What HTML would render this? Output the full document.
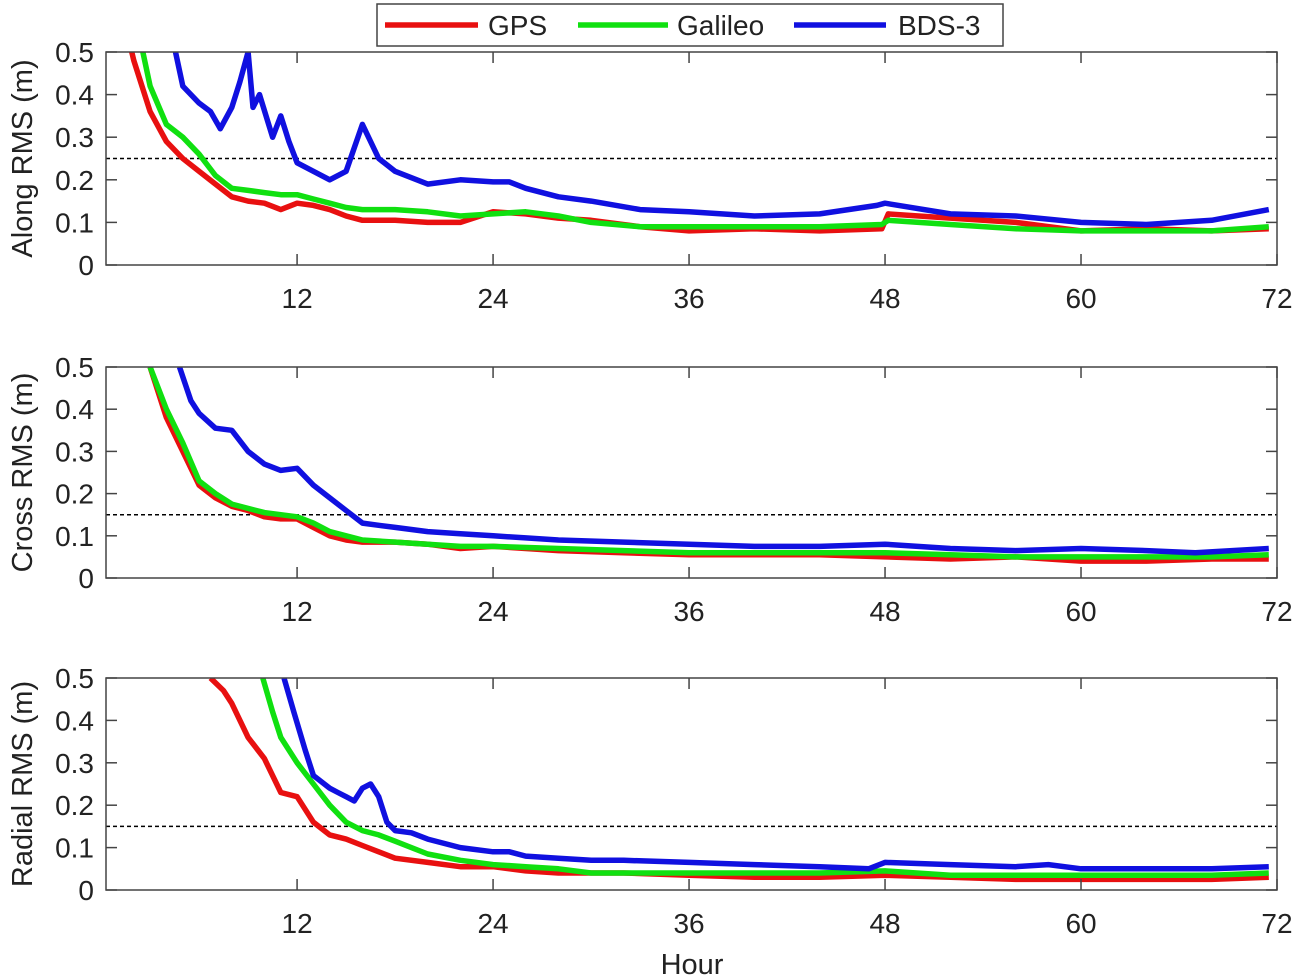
<!DOCTYPE html>
<html><head><meta charset="utf-8"><style>
body{margin:0;background:#fff;}
svg{display:block;font-family:"Liberation Sans",Arial,sans-serif;}
</style></head><body>
<svg id="chart" width="1301" height="980"></svg>
<script>
const xDomain=[0.3,72];
const xTicks=[12,24,36,48,60,72];
const yTicks=[0,0.1,0.2,0.3,0.4,0.5];
const yTickLabels=["0","0.1","0.2","0.3","0.4","0.5"];
const panelTitles=["Along RMS (m)","Cross RMS (m)","Radial RMS (m)"];
const thresholds=[0.25,0.15,0.15];
const seriesNames=["GPS","Galileo","BDS-3"];
const seriesColors=["#e81010","#10e010","#1010e0"];

const alongGpsH=[1.5,2,3,4,5,6,7,8,9,10,11,12,13,14,15,16,17,18,20,22,24,26,28,30,33,36,40,44,47.8,48.2,52,56,60,64,68,71.5];
const alongGpsV=[0.56,0.48,0.36,0.29,0.25,0.22,0.19,0.16,0.15,0.145,0.13,0.145,0.14,0.13,0.115,0.105,0.105,0.105,0.10,0.10,0.125,0.12,0.11,0.105,0.09,0.08,0.085,0.08,0.085,0.12,0.11,0.10,0.08,0.085,0.08,0.085];
const alongGalH=[2,3,4,5,6,7,8,9,10,11,12,13,14,15,16,17,18,20,22,24,26,28,30,33,36,40,44,47.8,48.2,52,56,60,64,68,71.5];
const alongGalV=[0.6,0.42,0.33,0.30,0.26,0.21,0.18,0.175,0.17,0.165,0.165,0.155,0.145,0.135,0.13,0.13,0.13,0.125,0.115,0.12,0.125,0.115,0.10,0.09,0.09,0.09,0.09,0.095,0.105,0.095,0.085,0.08,0.08,0.08,0.09];
const alongBdsH=[4,5,6,6.7,7.3,8,8.5,9,9.3,9.7,10.5,11,11.5,12,13,14,15,16,17,18,20,22,24,25,26,28,30,33,36,40,44,47.5,48,52,56,60,64,68,71.5];
const alongBdsV=[0.6,0.42,0.38,0.36,0.32,0.37,0.43,0.50,0.37,0.40,0.30,0.35,0.29,0.24,0.22,0.20,0.22,0.33,0.25,0.22,0.19,0.20,0.195,0.195,0.18,0.16,0.15,0.13,0.125,0.115,0.12,0.14,0.145,0.12,0.115,0.10,0.095,0.105,0.13];

const crossGpsH=[3,4,5,6,7,8,9,10,11,12,13,14,15,16,18,20,22,24,28,32,36,40,44,48,52,56,60,64,68,71.5];
const crossGpsV=[0.5,0.38,0.30,0.22,0.19,0.17,0.16,0.145,0.14,0.14,0.12,0.10,0.09,0.085,0.085,0.08,0.07,0.075,0.065,0.06,0.055,0.055,0.055,0.05,0.045,0.05,0.04,0.04,0.045,0.045];
const crossGalH=[3,4,5,6,7,8,9,10,11,12,13,14,15,16,18,20,22,24,28,32,36,40,44,48,52,56,60,64,68,71.5];
const crossGalV=[0.5,0.40,0.32,0.23,0.20,0.175,0.165,0.155,0.15,0.145,0.13,0.11,0.10,0.09,0.085,0.08,0.075,0.075,0.07,0.065,0.06,0.06,0.06,0.06,0.055,0.05,0.05,0.05,0.05,0.055];
const crossBdsH=[4.8,5.5,6,7,8,9,10,11,12,13,14,15,16,17,18,20,22,24,26,28,32,36,40,44,48,52,56,60,64,67,71.5];
const crossBdsV=[0.5,0.42,0.39,0.355,0.35,0.30,0.27,0.255,0.26,0.22,0.19,0.16,0.13,0.125,0.12,0.11,0.105,0.10,0.095,0.09,0.085,0.08,0.075,0.075,0.08,0.07,0.065,0.07,0.065,0.06,0.07];

const radGpsH=[6.7,7.5,8,9,10,11,12,13,14,15,16,17,18,20,22,24,26,28,32,36,40,44,48,52,56,60,64,68,71.5];
const radGpsV=[0.5,0.47,0.44,0.36,0.31,0.23,0.22,0.16,0.13,0.12,0.105,0.09,0.075,0.065,0.055,0.055,0.045,0.04,0.04,0.035,0.03,0.03,0.035,0.03,0.025,0.025,0.025,0.025,0.03];
const radGalH=[9.9,10.5,11,12,13,14,15,16,17,18,20,22,24,26,28,30,36,40,44,48,52,56,60,64,68,71.5];
const radGalV=[0.5,0.42,0.36,0.30,0.25,0.20,0.16,0.14,0.13,0.115,0.085,0.07,0.06,0.055,0.05,0.04,0.04,0.04,0.04,0.045,0.035,0.035,0.035,0.035,0.035,0.04];
const radBdsH=[11.2,11.8,12.5,13,14,14.5,15,15.5,16,16.5,17,17.5,18,19,20,22,24,25,26,28,30,32,36,40,44,47,48,52,56,58,60,64,68,71.5];
const radBdsV=[0.5,0.42,0.33,0.27,0.24,0.23,0.22,0.21,0.24,0.25,0.22,0.16,0.14,0.135,0.12,0.10,0.09,0.09,0.08,0.075,0.07,0.07,0.065,0.06,0.055,0.05,0.065,0.06,0.055,0.06,0.05,0.05,0.05,0.055];

const panels=[
 {top:52,bottom:265,series:[[alongGpsH,alongGpsV],[alongGalH,alongGalV],[alongBdsH,alongBdsV]]},
 {top:367,bottom:578,series:[[crossGpsH,crossGpsV],[crossGalH,crossGalV],[crossBdsH,crossBdsV]]},
 {top:678,bottom:890,series:[[radGpsH,radGpsV],[radGalH,radGalV],[radBdsH,radBdsV]]}
];
const L=106,R=1277;
const NS="http://www.w3.org/2000/svg";
const svg=document.getElementById('chart');
function mk(tag,attrs,parent){const e=document.createElementNS(NS,tag);for(const k in attrs)e.setAttribute(k,attrs[k]);(parent||svg).appendChild(e);return e;}
const xs=h=>L+(h-xDomain[0])/(xDomain[1]-xDomain[0])*(R-L);
const defs=mk('defs',{});
panels.forEach((p,pi)=>{
 const ys=v=>p.bottom-v/0.5*(p.bottom-p.top);
 const g=mk('g',{});
 
 
 const cp=mk('clipPath',{id:'cp'+pi},defs);
 mk('rect',{x:L,y:p.top,width:R-L,height:p.bottom-p.top},cp);
 const th=mk('line',{x1:L,x2:R,y1:ys(thresholds[pi]),y2:ys(thresholds[pi]),stroke:'#000','stroke-width':1.5,'stroke-dasharray':'4,3'},g);
 
 
 p.series.forEach((s,si)=>{
  const d=s[0].map((h,i)=>(i?'L':'M')+xs(h).toFixed(1)+','+ys(s[1][i]).toFixed(1)).join('');
  const path=mk('path',{d:d,fill:'none',stroke:seriesColors[si],'stroke-width':5.5,'stroke-linejoin':'round','clip-path':'url(#cp'+pi+')'},g);
  
  
 });
 mk('rect',{x:L,y:p.top,width:R-L,height:p.bottom-p.top,fill:'none',stroke:'#444','stroke-width':1.5},g);
 xTicks.forEach(t=>{
  const x=xs(t);
  mk('line',{x1:x,x2:x,y1:p.bottom,y2:p.bottom-11,stroke:'#444','stroke-width':1.5},g);
  mk('line',{x1:x,x2:x,y1:p.top,y2:p.top+11,stroke:'#444','stroke-width':1.5},g);
  const tl=mk('text',{x:x,y:p.bottom+43,'font-size':28,'text-anchor':'middle',fill:'#222'},g);
  tl.textContent=t;
  
  
 });
 yTicks.forEach((t,i)=>{
  const y=ys(t);
  mk('line',{x1:L,x2:L+11,y1:y,y2:y,stroke:'#444','stroke-width':1.5},g);
  mk('line',{x1:R,x2:R-11,y1:y,y2:y,stroke:'#444','stroke-width':1.5},g);
  const tl=mk('text',{x:L-12,y:y+10,'font-size':28,'text-anchor':'end',fill:'#222'},g);
  tl.textContent=yTickLabels[i];
  
  
 });
 const cy=(p.top+p.bottom)/2;
 const yt=mk('text',{x:0,y:0,'font-size':29,'text-anchor':'middle',fill:'#222',transform:'translate(32,'+cy+') rotate(-90)'},g);
 yt.textContent=panelTitles[pi];
 
 
});
const xt=mk('text',{x:692,y:974,'font-size':29,'text-anchor':'middle',fill:'#222'});
xt.textContent='Hour';


const lg=mk('g',{});


mk('rect',{x:377,y:4,width:626,height:42,fill:'#fff',stroke:'#444','stroke-width':1.5},lg);
const legX=[[385,478,488],[578,668,677],[794,886,898]];
seriesNames.forEach((n,i)=>{
 mk('line',{x1:legX[i][0],x2:legX[i][1],y1:25,y2:25,stroke:seriesColors[i],'stroke-width':5.5},lg);
 const t=mk('text',{x:legX[i][2],y:35,'font-size':28,fill:'#222'},lg);
 t.textContent=n;
 
 
});
</script>
</body></html>
